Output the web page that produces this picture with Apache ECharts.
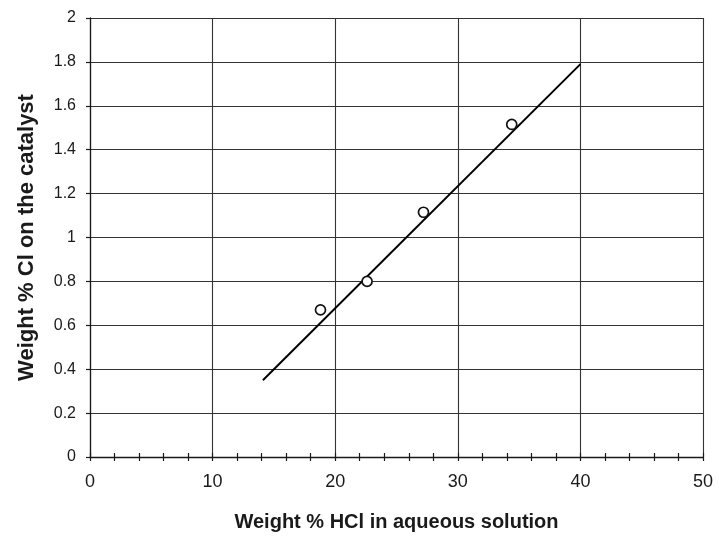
<!DOCTYPE html>
<html>
<head>
<meta charset="utf-8">
<script src="https://cdn.jsdelivr.net/npm/echarts@6/dist/echarts.min.js"></script>
<style>
html,body{margin:0;padding:0;background:#fff;}
#chart{width:719px;height:538px;}
</style>
</head>
<body>
<div id="chart"></div>
<script>
// Measured data points (Weight % HCl in aqueous solution, Weight % Cl on the catalyst)
const hclPct = [18.8, 22.6, 27.2, 34.4];
const clPct = [0.67, 0.80, 1.115, 1.515];
// Fitted straight line end points
const fitX = [14.1, 40.0];
const fitY = [0.35, 1.79];
// Axis ranges / ticks
const xMin = 0, xMax = 50, xStep = 10;
const yMin = 0, yMax = 2, yStep = 0.2;
const xTitle = 'Weight % HCl in aqueous solution';
const yTitle = 'Weight % Cl on the catalyst';

const font = 'Liberation Sans, Arial, Helvetica, sans-serif';
const ink = '#1a1a1a';
const gridInk = '#333';

const chart = echarts.init(document.getElementById('chart'), null, {renderer: 'canvas'});

const baseX = {
  type: 'value', min: xMin, max: xMax, interval: xStep, position: 'bottom'
};

chart.setOption({
  animation: false,
  backgroundColor: '#fff',
  grid: {left: 90, right: 16, top: 18, bottom: 81, containLabel: false},
  xAxis: [
    Object.assign({}, baseX, {
      name: xTitle,
      nameLocation: 'middle',
      nameGap: 55,
      nameTextStyle: {fontFamily: font, fontSize: 20, fontWeight: 'bold', color: ink},
      axisLine: {show: true, lineStyle: {color: ink, width: 1.3}},
      axisTick: {show: true, inside: false, length: 4, lineStyle: {color: ink, width: 1.2}},
      minorTick: {show: true, splitNumber: 5, length: 4, lineStyle: {color: ink, width: 1.2}},
      axisLabel: {fontFamily: font, fontSize: 18, color: ink, margin: 16},
      splitLine: {show: true, lineStyle: {color: gridInk, width: 1.1}}
    }),
    Object.assign({}, baseX, {
      axisLine: {show: false},
      axisTick: {show: true, inside: true, length: 4, lineStyle: {color: ink, width: 1.2}},
      minorTick: {show: true, splitNumber: 5, length: 4, lineStyle: {color: ink, width: 1.2}},
      axisLabel: {show: false},
      splitLine: {show: false}
    })
  ],
  yAxis: {
    type: 'value', min: yMin, max: yMax, interval: yStep,
    name: yTitle,
    nameLocation: 'middle',
    nameGap: 52,
    nameTextStyle: {fontFamily: font, fontSize: 22, fontWeight: 'bold', color: ink},
    axisLine: {show: true, lineStyle: {color: ink, width: 1.3}},
    axisTick: {show: true, inside: false, length: 4, lineStyle: {color: ink, width: 1.2}},
    axisLabel: {fontFamily: font, fontSize: 16, color: ink, margin: 14},
    splitLine: {show: true, lineStyle: {color: gridInk, width: 1.1}}
  },
  series: [
    {
      type: 'line',
      data: fitX.map((x, i) => [x, fitY[i]]),
      showSymbol: false,
      symbol: 'none',
      lineStyle: {color: '#000', width: 2},
      z: 3
    },
    {
      type: 'scatter',
      data: hclPct.map((x, i) => [x, clPct[i]]),
      symbol: 'circle',
      symbolSize: 10,
      itemStyle: {color: '#fff', borderColor: '#111', borderWidth: 1.7, opacity: 1},
      z: 4
    }
  ]
});
</script>
</body>
</html>
